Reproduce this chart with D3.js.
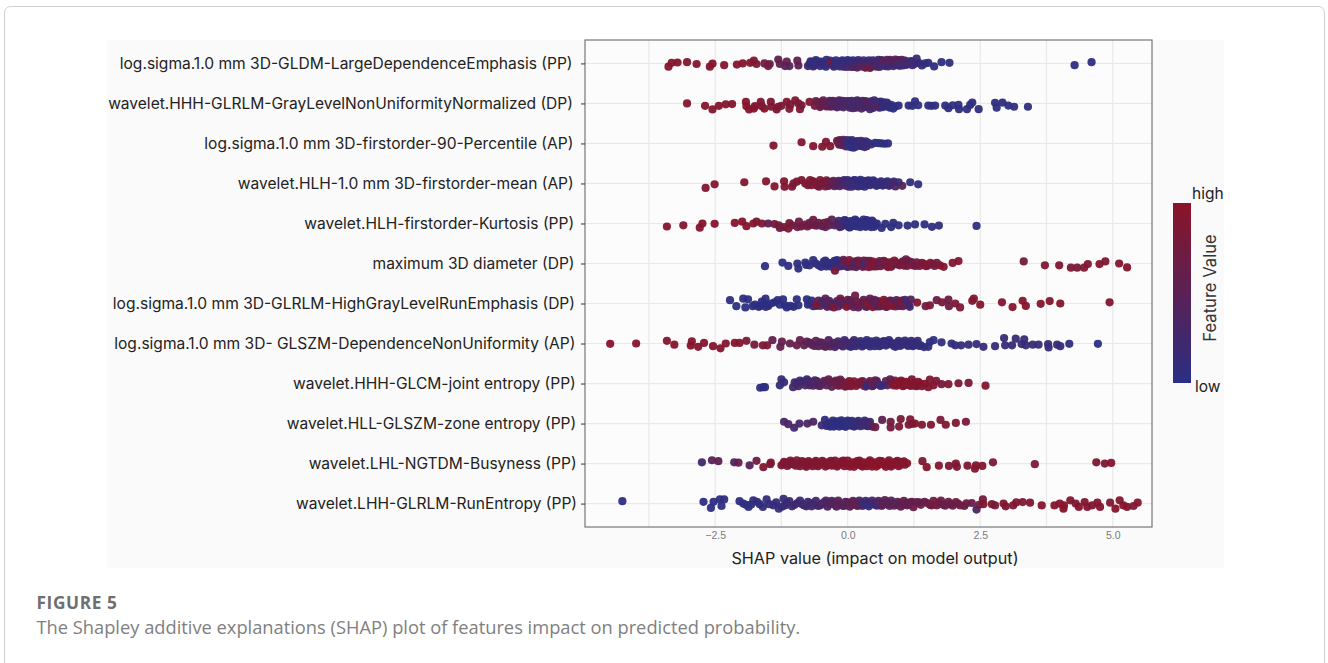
<!DOCTYPE html>
<html>
<head>
<meta charset="utf-8">
<script src="https://cdn.jsdelivr.net/npm/d3@7"></script>
<style>
  body { margin: 0; background: #fff; }
  svg { display: block; }
</style>
</head>
<body>
<div class="chart"></div>
<script>
// row labels, top to bottom
var features = [
  "log.sigma.1.0 mm 3D-GLDM-LargeDependenceEmphasis (PP)",
  "wavelet.HHH-GLRLM-GrayLevelNonUniformityNormalized (DP)",
  "log.sigma.1.0 mm 3D-firstorder-90-Percentile (AP)",
  "wavelet.HLH-1.0 mm 3D-firstorder-mean (AP)",
  "wavelet.HLH-firstorder-Kurtosis (PP)",
  "maximum 3D diameter (DP)",
  "log.sigma.1.0 mm 3D-GLRLM-HighGrayLevelRunEmphasis (DP)",
  "log.sigma.1.0 mm 3D- GLSZM-DependenceNonUniformity (AP)",
  "wavelet.HHH-GLCM-joint entropy (PP)",
  "wavelet.HLL-GLSZM-zone entropy (PP)",
  "wavelet.LHL-NGTDM-Busyness (PP)",
  "wavelet.LHH-GLRLM-RunEntropy (PP)"
];
var xTicks = [-2.5, 0, 2.5, 5];
var xGrid = [-3.75, -2.5, -1.25, 0, 1.25, 2.5, 3.75, 5];

// each point: [shap value, jitter (-1..1), feature value (0 low..1 high)]
var gldm = [[-3.38,.55,.95],[-3.32,-.1,.95],[-3.21,-.15,.95],[-3.03,-.2,.95],[-2.85,.1,.95],[-2.6,.55,.95],[-2.55,.05,.95],[-2.33,.3,.95],[-2.09,.2,.95],[-1.98,0,.95],[-1.84,-.1,.9],[-1.77,-.45,.9],[-1.72,.1,.9],[-1.57,0,.75],[-1.5,.45,.75],[-1.47,.1,.7],[-1.31,-.65,.55],[-1.28,.1,.6],[-1.18,.45,.5],[-1.15,-.3,.6],[-1.1,.45,.5],[-.95,-.45,.6],[-.93,.35,.55],
[-.75,.45,.15],[-.72,.1,.1],[-.68,-.2,.12],[-.62,.3,.12],[-.6,-.55,.08],[-.55,.05,.1],[-.5,-.3,.1],[-.44,.3,.12],[-.4,-.6,.1],[-.36,.05,.12],[-.3,-.1,.85],[-.26,.55,.15],[-.22,-.5,.08],[-.18,.2,.12],[-.12,-.25,.1],[-.08,.55,.2],[-.04,0,.15],[0,-.55,.1],[.04,.35,.3],[.08,-.2,.15],[.12,.6,.4],[.16,.1,.3],[.2,-.55,.1],[.24,.5,.5],[.28,-.1,.3],[.32,.65,.55],[.36,.2,.45],[.4,-.5,.15],[.42,.75,.8],[.46,.3,.5],[.5,-.15,.3],[.54,.55,.35],[.58,-.6,.25],[.62,.15,.3],[.66,-.3,.45],[.7,.45,.2],[.74,-.6,.5],[.78,.05,.25],[.82,-.35,.45],[.86,.45,.25],[.9,-.65,.5],[.94,-.15,.35],[.98,.4,.2],[1.02,-.6,.5],[1.06,-.1,.35],[1.1,.25,.2],[1.16,-.3,.2],[1.22,.3,.2],[1.3,-.8,.15],[1.34,-.1,.15],[1.4,.35,.1],[1.46,0,.12],[1.52,-.1,.1],[1.63,.5,.05],[1.77,-.2,.05],[1.92,-.1,.05],[4.28,.3,.03],[4.6,-.2,.03]];
var gldmCore = [[-.7,-.35,.1],[-.65,.5,.12],[-.57,-.35,.1],[-.52,.45,.12],[-.47,-.1,.1],[-.41,.55,.15],[-.33,-.45,.1],[-.28,.25,.15],[-.24,-.15,.1],[-.15,.5,.2],[-.1,-.5,.1],[-.06,.1,.2],[-.02,.6,.3],[.02,-.25,.15],[.06,.6,.35],[.1,-.5,.12],[.14,.25,.35],[.18,.7,.5],[.22,-.2,.2],[.26,.25,.4],[.3,-.5,.15],[.34,.7,.5],[.38,-.1,.35],[.44,.55,.45],[.48,-.5,.25],[.52,.2,.4],[.56,-.2,.3],[.6,.6,.3],[.64,-.55,.35],[.68,.15,.3],[.72,-.15,.35],[.76,.5,.2],[.8,-.6,.55],[.84,.1,.35],[.88,-.3,.5],[.92,.3,.3],[.96,-.55,.55],[1,0,.3],[1.04,.35,.25],[1.08,-.45,.3],[1.14,.1,.2],[1.2,-.4,.2],[1.26,.1,.15]];
var glrlmNorm = [[-3.03,0,.95],[-2.69,.4,.95],[-2.55,1,.95],[-2.43,.4,.95],[-2.3,.15,.95],[-2.18,.1,.95],[-1.92,-.25,.95],[-1.91,.45,.95],[-1.86,1,.95],[-1.77,.85,.95],[-1.75,.45,.95],[-1.64,-.25,.9],[-1.57,.85,.95],[-1.62,.45,.9],[-1.45,-.25,.9],[-1.44,.55,.9],[-1.34,1,.9],[-1.31,.55,.9],[-1.25,.4,.85],[-1.15,-.25,.9],[-1.1,.9,.85],[-1.08,.2,.85],[-.99,-.5,.85],[-.93,0,.85],[-.9,.95,.85],[-.87,.3,.8],[-.72,-.25,.85],[-.62,.4,.75],[-.55,-.2,.7],[-.5,.3,.65],[-.46,-.5,.6],[-.42,.1,.55],[-.38,.45,.55],[-.34,-.45,.45],[-.3,0,.45],[-.26,.45,.4],[-.22,-.3,.4],[-.18,.15,.35],[-.14,.5,.35],[-.1,-.45,.35],[-.06,0,.3],[-.02,.4,.35],[.02,-.4,.3],[.06,.1,.25],[.1,.8,.35],[.14,.35,.3],[.18,-.5,.3],[.22,-.05,.3],[.26,.85,.4],[.3,.45,.3],[.34,-.4,.4],[.38,.05,.4],[.42,.95,.3],[.46,.35,.35],[.5,-.5,.15],[.54,0,.3],[.58,.5,.45],[.62,-.3,.15],[.66,.6,.1],[.7,.1,.15],[.74,-.15,.1],[.78,.55,.08],[.82,.25,.08],[.86,.85,.05],[.9,.5,.05],[.96,.35,.05],[1.15,.35,.05],[1.22,.4,.05],[1.27,-.35,.05],[1.33,.3,.05],[1.52,.35,.05],[1.58,.4,.05],[1.65,.35,.05],[1.84,.35,.05],[1.9,.8,.05],[1.98,.3,.05],[2.09,.25,.05],[2.1,.95,.05],[2.25,.95,.05],[2.31,.25,.05],[2.35,-.15,.05],[2.47,.95,.05],[2.78,-.1,.05],[2.81,.7,.05],[2.92,-.15,.05],[3.03,.35,.05],[3.14,.55,.05],[3.4,.55,.05]];
var glrlmNormCore = [[-.6,-.4,.7],[-.52,.6,.65],[-.48,-.2,.6],[-.4,.5,.55],[-.36,-.2,.5],[-.32,.55,.5],[-.28,-.45,.45],[-.24,.2,.4],[-.2,.65,.35],[-.16,-.5,.35],[-.12,.25,.3],[-.08,.65,.35],[-.04,-.4,.3],[0,.2,.3],[.04,.7,.35],[.08,-.45,.3],[.12,.25,.3],[.16,.7,.35],[.2,-.3,.3],[.24,.3,.3],[.28,-.45,.35],[.32,.6,.35],[.36,-.15,.35],[.4,.4,.3],[.44,-.35,.45],[.48,.75,.25],[.52,.2,.4],[.56,-.2,.2],[.6,.7,.1],[.64,.2,.1],[.68,-.2,.1],[.72,.5,.08],[.76,.15,.08],[.8,.7,.05]];
var percentile90 = [[-1.4,.35,.95],[-.87,-.2,.95],[-.65,.45,.95],[-.48,.55,.9],[-.41,-.25,.85],[-.33,.45,.95],[-.2,-.45,.75],[-.18,-.1,.7],[-.15,-.55,.65],[-.12,-.1,.6],[-.1,.3,.55],[-.08,-.6,.45],[-.05,.1,.4],[-.03,.5,.35],[0,-.55,.2],[.03,0,.1],[.05,.6,.05],[.08,-.55,.1],[.1,.25,.05],[.13,-.2,.1],[.15,.55,.05],[.18,-.4,.12],[.2,.1,.15],[.25,-.45,.2],[.27,.45,.15],[.3,.1,.12],[.34,-.35,.15],[.36,.45,.2],[.39,-.1,.12],[.52,-.1,.05],[.64,0,.05],[.76,0,.05]];
var percentile90Core = [[-.16,.2,.7],[-.06,-.3,.4],[-.02,.25,.3],[.01,-.25,.15],[.06,.3,.05],[.11,.7,.05],[.16,-.1,.08],[.22,.35,.12],[.28,-.2,.18],[.32,.6,.2],[.45,.15,.12],[.58,-.05,.05],[.7,.05,.05]];
var firstMean = [[-2.68,.75,.95],[-2.51,.15,.95],[-1.95,-.2,.95],[-1.54,-.35,.95],[-1.38,.5,.95],[-1.2,-.35,.95],[-1.19,.55,.95],[-1.05,.55,.9],[-1.02,0,.85],[-.96,-.3,.85],[-.87,-.55,.9],[-.8,0,.85],[-.71,-.55,.85],[-.68,.3,.85],[-.62,-.2,.85],[-.57,.4,.8],[-.52,-.55,.85],[-.46,.1,.75],[-.4,-.5,.8],[-.35,.4,.7],[-.3,-.1,.6],[-.25,.45,.5],[-.2,-.2,.45],[-.15,.45,.4],[-.1,-.3,.3],[-.05,.35,.3],[0,-.55,.15],[.04,.1,.2],[.08,.55,.2],[.12,-.55,.1],[.16,.1,.1],[.2,.5,.1],[.24,-.6,.1],[.28,0,.08],[.32,.55,.08],[.36,-.4,.12],[.42,.3,.12],[.48,-.5,.08],[.54,.4,.1],[.6,-.1,.12],[.66,.35,.15],[.72,-.15,.12],[.78,.4,.2],[.84,-.1,.2],[.9,.5,.35],[.96,-.2,.12],[1.03,.4,.45],[1.18,-.2,.08],[1.33,.15,.05]];
var firstMeanCore = [[-.75,.3,.85],[-.66,-.4,.85],[-.59,.1,.85],[-.54,.55,.8],[-.48,-.15,.8],[-.42,.5,.75],[-.37,-.25,.7],[-.32,.2,.65],[-.27,-.45,.55],[-.22,.2,.5],[-.17,-.45,.4],[-.12,.15,.35],[-.07,-.55,.25],[-.02,.1,.25],[.02,.55,.15],[.06,-.3,.15],[.1,.25,.12],[.14,-.5,.1],[.18,.4,.1],[.22,-.1,.08],[.26,.4,.1],[.3,-.45,.1],[.34,.15,.08],[.39,-.5,.1],[.45,.05,.1],[.51,-.3,.1],[.57,.3,.12],[.63,-.35,.12],[.69,.2,.15],[.75,-.35,.15],[.81,.25,.15],[.87,-.3,.2]];
var kurtosis = [[-3.41,.5,.95],[-3.1,.3,.95],[-2.79,.7,.95],[-2.74,0,.95],[-2.51,.05,.95],[-2.13,-.1,.95],[-1.99,-.3,.95],[-1.91,.45,.95],[-1.78,0,.95],[-1.72,-.3,.9],[-1.62,0,.9],[-1.5,0,.55],[-1.38,.1,.8],[-1.28,.75,.75],[-1.12,.85,.85],[-1.1,-.05,.8],[-.95,.6,.7],[-.92,-.3,.7],[-.8,.2,.75],[-.72,-.1,.7],[-.65,-.6,.7],[-.62,.3,.7],[-.55,-.1,.65],[-.42,.6,.55],[-.38,-.25,.75],[-.3,-.65,.5],[-.25,.3,.45],[-.15,.6,.3],[-.1,0,.3],[-.06,-.55,.1],[-.02,.3,.1],[.02,.6,.08],[.06,-.4,.08],[.1,.15,.05],[.14,-.65,.05],[.18,.5,.05],[.22,-.2,.05],[.26,.2,.05],[.3,-.65,.05],[.34,.55,.05],[.38,-.3,.05],[.42,.2,.05],[.46,-.5,.05],[.5,.55,.05],[.55,0,.05],[.64,.75,.05],[.71,.05,.05],[.82,.6,.05],[.86,-.1,.05],[.96,.3,.05],[1.13,.35,.05],[1.27,.15,.05],[1.45,.15,.05],[1.59,.55,.05],[1.72,.35,.05],[2.43,.4,.05]];
var kurtosisCore = [[-1.3,.3,.75],[-1.2,.6,.8],[-1.05,.3,.75],[-.88,.5,.7],[-.76,.5,.7],[-.7,.25,.7],[-.58,.35,.65],[-.48,.45,.55],[-.44,-.1,.6],[-.35,.3,.5],[-.2,.1,.35],[-.17,-.45,.25],[-.12,.5,.2],[-.08,.2,.15],[-.04,-.5,.1],[0,.25,.08],[.04,.65,.08],[.08,-.3,.05],[.12,.4,.05],[.16,-.5,.05],[.2,.15,.05],[.24,.6,.05],[.28,-.2,.05],[.32,.4,.05],[.36,-.55,.05],[.4,.1,.05],[.44,.6,.05],[.48,-.25,.05],[.52,.2,.05]];
var diameter = [[-1.56,.45,.03],[-1.23,-.15,.03],[-1.12,.4,.03],[-.95,0,.05],[-.93,.85,.05],[-.8,-.15,.05],[-.72,.3,.05],[-.65,-.55,.05],[-.55,.3,.05],[-.45,-.3,.05],[-.4,.5,.05],[-.35,-.05,.05],[-.3,.55,.05],[-.25,-.45,.05],[-.22,.15,.08],[-.18,.55,.1],[-.15,-.3,.08],[-.24,1.2,.8],[-.12,.45,.2],[-.08,-.6,.6],[-.04,.1,.7],[0,.55,.35],[.03,-.55,.85],[.06,-.05,.75],[.1,.5,.5],[.14,-.35,.55],[.18,.3,.4],[.22,-.2,.8],[.28,.55,.7],[.32,0,.15],[.36,-.45,.6],[.4,.6,.85],[.44,.05,.7],[.48,-.3,.95],[.52,.5,.8],[.58,-.05,.6],[.62,.45,.7],[.68,-.45,.75],[.72,.05,.65],[.76,.6,.8],[.8,-.2,.9],[.84,.3,.8],[.88,-.5,.85],[.94,.15,.7],[1,-.1,.85],[1.06,.35,.8],[1.1,-.7,.65],[1.16,-.35,.7],[1.22,.3,.75],[1.3,-.2,.75],[1.36,.4,.8],[1.44,.05,.85],[1.52,.3,.85],[1.6,.1,.85],[1.68,-.1,.7],[1.74,.3,.9],[1.81,.55,.95],[1.98,-.1,.9],[2.09,-.4,.95],[3.32,-.35,.75],[3.72,.3,.9],[3.99,.3,.9],[4.21,.7,.85],[4.33,.7,.8],[4.46,.7,.9],[4.53,.1,.9],[4.75,.1,.95],[4.86,-.35,.9],[5.12,0,.95],[5.27,.65,.95]];
var diameterCore = [[-.78,.25,.05],[-.6,0,.05],[-.5,.55,.05],[-.42,-.5,.05],[-.37,.15,.05],[-.32,.1,.05],[-.27,-.15,.05],[-.2,-.55,.08],[-.16,.1,.1],[-.1,.25,.3],[-.06,-.25,.5],[-.02,.5,.6],[.02,.1,.75],[.05,.5,.65],[.12,-.1,.65],[.16,.6,.5],[.2,-.5,.75],[.26,.15,.7],[.3,-.5,.6],[.34,.5,.6],[.38,0,.2],[.42,-.45,.65],[.46,.5,.8],[.5,-.05,.85],[.56,.45,.75],[.6,-.4,.7],[.66,.15,.75],[.7,-.3,.7],[.74,.4,.75],[.78,-.1,.7],[.82,.55,.85],[.9,-.2,.85],[.98,.3,.8],[1.04,-.35,.7],[1.12,.4,.8],[1.2,-.25,.7],[1.28,.4,.7],[1.4,-.1,.85],[1.48,.45,.85],[1.56,-.1,.85],[1.64,.4,.8]];
var highGray = [[-2.22,-.55,.05],[-2.1,.45,.03],[-1.97,-.8,.03],[-1.93,.65,.03],[-1.88,-.7,.03],[-1.79,.45,.03],[-1.68,.55,.03],[-1.62,-.3,.03],[-1.55,-.8,.03],[-1.54,.55,.03],[-1.45,0,.03],[-1.32,-.55,.03],[-1.22,-.7,.03],[-1.15,.65,.03],[-1.02,.55,.03],[-.96,-.7,.03],[-.93,.3,.03],[-.77,-.7,.05],[-.71,0,.05],[-.65,.45,.25],[-.58,.1,.9],[-.48,-.3,.3],[-.42,-.8,.45],[-.39,.55,.4],[-.3,0,.45],[-.26,.65,.8],[-.2,-.4,.3],[-.14,-.8,.7],[-.1,.2,.4],[-.02,.55,.9],[.04,-.55,.5],[.08,.1,.6],[.14,-1.3,.7],[.2,.65,.45],[.24,0,.8],[.3,-.6,.6],[.34,.5,.45],[.38,.05,.85],[.42,-.8,.55],[.47,.6,.9],[.52,.05,.4],[.56,-.45,.55],[.6,.5,.5],[.64,.1,.8],[.68,-.6,.9],[.72,.55,.65],[.76,0,.95],[.8,-.5,.6],[.84,.4,.85],[.88,.05,.9],[.92,-.55,.35],[.96,.3,.55],[1,-.3,.9],[1.04,.45,.7],[1.08,-.6,.3],[1.12,.15,.35],[1.17,.55,.25],[1.19,-.65,.4],[1.31,-.15,.95],[1.47,.45,.75],[1.55,.3,.85],[1.68,-.55,.7],[1.78,-.2,.8],[1.9,-.65,.7],[1.91,.45,.7],[2.03,0,.85],[2.12,.65,.85],[2.35,-.45,.9],[2.38,-.8,.9],[2.5,.2,.95],[2.91,-.2,.95],[3.11,.6,.95],[3.3,-.45,.95],[3.36,.4,.95],[3.64,.05,.95],[3.81,-.4,.95],[4.01,0,.95],[4.94,-.2,.95]];
var highGrayCore = [[-1.75,.2,.03],[-1.65,.45,.03],[-1.58,.1,.03],[-1.5,.4,.03],[-1.38,-.2,.03],[-1.28,.2,.03],[-1.18,.3,.03],[-1.08,.4,.03],[-.75,.2,.05],[-.68,-.5,.05],[-.6,.4,.3],[-.55,-.5,.35],[-.52,.4,.5],[-.44,.15,.4],[-.35,-.45,.4],[-.32,.5,.55],[-.24,.05,.45],[-.18,.5,.5],[-.12,-.45,.55],[-.06,.05,.6],[0,-.6,.65],[.02,.3,.7],[.06,-.2,.55],[.11,.6,.5],[.17,-.3,.55],[.22,.35,.6],[.28,-.15,.7],[.36,.55,.6],[.4,-.35,.7],[.45,.25,.7],[.5,-.6,.5],[.54,.5,.6],[.58,-.15,.7],[.62,.4,.75],[.7,-.2,.8],[.74,.55,.8],[.78,.2,.9],[.82,-.45,.7],[.86,.1,.85],[.9,.5,.85],[.94,-.2,.45],[.98,.4,.6],[1.02,-.5,.45],[1.06,.2,.5],[1.1,-.2,.3],[1.15,.2,.3]];
var dependence = [[-4.48,.05,.95],[-3.99,0,.95],[-3.41,-.45,.95],[-3.27,.2,.95],[-2.94,-.35,.95],[-2.96,.35,.95],[-2.82,.55,.95],[-2.71,-.1,.95],[-2.54,.45,.95],[-2.4,.8,.95],[-2.3,0,.95],[-2.13,-.1,.95],[-2.04,-.1,.95],[-1.91,-.45,.85],[-1.76,.2,.8],[-1.6,.3,.9],[-1.52,.3,.85],[-1.42,-.55,.6],[-1.27,.55,.6],[-1.24,-.3,.6],[-1.09,0,.6],[-.9,-.55,.6],[-.96,.3,.65],[-.77,-.3,.55],[-.68,.2,.5],[-.6,-.45,.5],[-.55,.45,.45],[-.48,-.1,.45],[-.42,.55,.5],[-.36,-.55,.4],[-.3,.1,.4],[-.24,.6,.35],[-.18,-.35,.35],[-.12,.3,.3],[-.06,-.55,.2],[0,.1,.3],[.06,.55,.15],[.12,-.55,.25],[.18,.1,.15],[.24,-.4,.12],[.3,.35,.12],[.36,-.55,.1],[.42,.5,.1],[.48,0,.1],[.54,-.5,.12],[.6,.45,.1],[.66,-.3,.12],[.72,.35,.12],[.78,-.55,.1],[.84,.05,.15],[.9,.55,.12],[.96,-.45,.1],[1.02,.2,.12],[1.08,-.5,.15],[1.14,.4,.1],[1.2,-.45,.12],[1.26,.25,.1],[1.32,-.45,.12],[1.38,.3,.12],[1.44,.6,.1],[1.52,.55,.05],[1.55,-.25,.05],[1.62,-.55,.05],[1.77,-.2,.05],[1.96,0,.05],[2.03,.3,.1],[2.14,.3,.12],[2.28,.2,.12],[2.43,.1,.1],[2.56,.55,.15],[2.78,.45,.15],[2.95,-.9,.15],[2.97,.3,.15],[3.1,.3,.15],[3.17,-.8,.15],[3.28,.1,.15],[3.33,-.7,.15],[3.36,.3,.15],[3.49,.2,.15],[3.6,.2,.15],[3.78,.1,.15],[3.79,.65,.12],[3.95,.2,.15],[4.01,.45,.12],[4.18,.05,.08],[4.72,.05,.03]];
var dependenceCore = [[-.82,.3,.55],[-.72,-.15,.55],[-.63,.4,.5],[-.52,-.2,.45],[-.45,.4,.45],[-.33,.5,.4],[-.27,-.1,.35],[-.21,.3,.3],[-.15,.05,.3],[-.09,.5,.25],[-.03,-.2,.25],[.03,.45,.2],[.09,-.25,.2],[.15,.45,.15],[.21,-.1,.15],[.27,.5,.12],[.33,-.2,.1],[.39,.2,.1],[.45,-.35,.1],[.51,.45,.1],[.57,-.15,.1],[.63,.25,.12],[.69,-.4,.12],[.75,.15,.1],[.81,-.2,.12],[.87,.4,.12],[.93,-.1,.1],[.99,.4,.12],[1.05,-.2,.12],[1.11,.2,.1],[1.17,-.1,.12],[1.23,.45,.1],[1.29,-.1,.12],[1.35,.4,.12]];
var jointEntropy = [[-1.65,.7,.03],[-1.59,.6,.03],[-1.56,.6,.03],[-1.28,.3,.1],[-1.25,-.7,.1],[-1.2,-.2,.15],[-1.03,.6,.25],[-.96,0,.3],[-.9,-.5,.2],[-.77,-.7,.2],[-.72,.3,.35],[-.68,-.2,.3],[-.62,-.55,.35],[-.55,.35,.4],[-.48,-.1,.45],[-.36,-.7,.6],[-.3,.55,.5],[-.25,-.3,.6],[-.2,.3,.7],[-.14,-.65,.65],[-.08,.1,.75],[-.02,.45,.8],[.03,-.4,.85],[.1,.1,.95],[.16,.4,.85],[.24,-.3,.8],[.3,.35,.75],[.36,.3,.1],[.42,-.4,.6],[.48,.35,.5],[.52,-.55,.6],[.58,.15,.25],[.67,.3,.1],[.72,-.4,.45],[.8,-.7,.6],[.86,.3,.9],[.92,.35,.95],[.98,-.3,.95],[1.04,.45,.9],[1.1,-.3,.95],[1.15,.25,.95],[1.21,-.7,.9],[1.27,.35,.9],[1.33,-.3,.95],[1.4,.45,.9],[1.46,.05,.95],[1.52,.6,.9],[1.55,-.65,.9],[1.62,.3,.95],[1.67,-.45,.9],[1.77,.1,.8],[1.9,.1,.85],[2.09,-.05,.9],[2.28,-.1,.85],[2.6,.35,.95]];
var jointEntropyCore = [[-1,-.2,.25],[-.93,.45,.3],[-.85,-.3,.25],[-.8,.3,.3],[-.74,-.4,.3],[-.65,.35,.35],[-.58,-.4,.4],[-.52,.4,.45],[-.44,-.45,.5],[-.4,.3,.5],[-.32,-.2,.55],[-.22,-.5,.65],[-.16,.35,.7],[-.1,-.3,.7],[-.05,.5,.75],[0,-.1,.85],[.06,.45,.9],[.12,-.35,.85],[.2,.05,.9],[.28,-.4,.75],[.34,.5,.65],[.4,-.1,.6],[.46,.45,.35],[.55,-.4,.45],[.62,.4,.15],[.75,.3,.5],[.83,-.1,.8],[.89,-.5,.85],[.95,.1,.9],[1.01,-.5,.9],[1.07,.3,.95],[1.13,-.1,.9],[1.19,.4,.95],[1.25,-.1,.95],[1.3,.45,.9],[1.36,-.05,.95]];
var zoneEntropy = [[-1.2,-.3,.3],[-1.12,.1,.35],[-1.01,.7,.25],[-.91,0,.3],[-.76,0,.35],[-.65,-.3,.4],[-.49,.3,.15],[-.43,-.6,.1],[-.37,0,.1],[-.33,.5,.03],[-.28,-.5,.05],[-.24,.2,.03],[-.2,-.35,.03],[-.16,.5,.03],[-.12,-.55,.03],[-.08,.1,.03],[-.04,.55,.03],[0,-.5,.05],[.04,.2,.05],[.08,-.45,.1],[.12,.5,.1],[.16,0,.12],[.2,-.45,.15],[.24,.45,.2],[.28,0,.2],[.32,-.5,.15],[.36,.35,.2],[.4,0,.25],[.46,.5,.3],[.52,.6,.7],[.65,-.6,.55],[.81,-.3,.75],[.81,.65,.75],[.97,.5,.85],[1,-.75,.8],[1.15,.2,.9],[1.18,-.7,.85],[1.22,.05,.85],[1.27,0,.9],[1.4,.2,.9],[1.57,.2,.9],[1.75,-.6,.85],[1.85,.2,.9],[2.04,-.1,.9],[2.23,-.3,.85]];
var zoneEntropyCore = [[-.4,.4,.1],[-.3,-.1,.05],[-.26,.5,.03],[-.18,.1,.03],[-.14,-.2,.03],[-.1,.4,.03],[-.06,-.3,.03],[-.02,.3,.03],[.02,-.2,.05],[.06,.35,.08],[.1,-.1,.1],[.14,.4,.12],[.18,-.2,.15],[.22,.2,.15],[.3,.3,.2],[.34,-.2,.15],[.38,.45,.25],[.42,-.3,.25]];
var busyness = [[-2.75,-.2,.25],[-2.56,-.55,.5],[-2.44,-.4,.55],[-2.14,-.2,.4],[-2.06,-.15,.6],[-1.85,.3,.45],[-1.72,-.45,.75],[-1.59,.6,.9],[-1.46,.1,.85],[-1.45,-.15,.9],[-1.25,.3,.85],[-1.2,-.3,.9],[-1.14,.4,.85],[-1.08,-.5,.9],[-1.02,.1,.85],[-.96,-.55,.85],[-.9,.45,.85],[-.84,-.2,.9],[-.78,.55,.85],[-.72,-.1,.9],[-.66,.45,.9],[-.6,-.45,.9],[-.54,.2,.9],[-.48,-.45,.9],[-.42,.5,.9],[-.36,-.2,.9],[-.3,.35,.95],[-.24,-.5,.9],[-.18,.2,.95],[-.12,-.35,.9],[-.06,.45,.95],[0,-.5,.95],[.06,.15,.95],[.12,.55,.95],[.18,-.4,.95],[.24,.3,.95],[.3,-.2,.95],[.36,.45,.95],[.42,-.55,.95],[.48,.1,1],[.54,.5,1],[.6,-.45,.95],[.66,.1,1],[.72,.55,.95],[.78,-.55,.95],[.84,.2,.95],[.9,-.3,.95],[.96,.45,.95],[1.02,-.25,.95],[1.08,.2,.95],[1.12,-.05,.95],[1.41,-.4,.9],[1.49,.6,.95],[1.72,.35,.95],[1.91,.4,.9],[2.04,0,.9],[2.06,.55,.9],[2.26,.35,.9],[2.4,.85,.95],[2.42,.3,.9],[2.54,.4,.95],[2.74,-.2,.85],[3.53,.1,.85],[4.69,-.2,.9],[4.85,0,.9],[4.97,-.1,.95]];
var busynessCore = [[-1.22,.1,.85],[-1.16,-.1,.9],[-1.1,.15,.85],[-1.04,-.2,.85],[-.98,.35,.85],[-.92,.1,.85],[-.86,-.4,.9],[-.8,.3,.9],[-.74,-.4,.85],[-.68,.1,.9],[-.62,-.2,.9],[-.56,.45,.9],[-.5,0,.9],[-.44,-.2,.9],[-.38,.3,.9],[-.32,-.45,.9],[-.26,.1,.95],[-.2,.5,.9],[-.14,.05,.95],[-.08,-.5,.95],[-.02,.1,.95],[.04,.5,.95],[.1,-.2,.95],[.16,.15,.95],[.22,-.5,.95],[.28,.5,.95],[.34,.05,.95],[.4,-.3,1],[.46,.5,1],[.52,-.2,1],[.58,.25,1],[.64,-.4,.95],[.7,.2,1],[.76,-.2,.95],[.82,.5,.95],[.88,.1,.95],[.94,-.45,.95],[1,.2,.95],[1.06,-.35,.95]];
var runEntropy = [[-4.25,-.4,.03],[-2.72,-.3,.03],[-2.58,.7,.03],[-2.53,-.3,.03],[-2.38,.4,.05],[-2.41,-.7,.05],[-2.33,-.7,.05],[-2.04,-.4,.05],[-1.97,0,.05],[-1.87,.55,.05],[-1.78,-.55,.05],[-1.71,-.3,.1],[-1.6,.55,.1],[-1.53,-.7,.1],[-1.4,.3,.1],[-1.3,.85,.1],[-1.21,-.8,.15],[-1.18,.3,.15],[-1.1,-.4,.2],[-1,.2,.2],[-.9,-.5,.2],[-.82,.3,.25],[-.75,-.3,.2],[-.68,.45,.25],[-.6,-.45,.25],[-.52,.3,.3],[-.45,-.2,.35],[-.38,.5,.4],[-.3,-.45,.4],[-.24,.25,.45],[-.18,-.5,.5],[-.1,.35,.45],[-.04,-.3,.45],[.04,.5,.5],[.1,-.45,.6],[.16,.3,.6],[.22,-.5,.3],[.28,.4,.25],[.34,-.45,.15],[.4,.45,.1],[.46,-.5,.3],[.52,.2,.15],[.58,-.45,.4],[.64,.4,.5],[.7,-.6,.55],[.76,.1,.5],[.82,-.5,.45],[.88,.35,.5],[.94,-.3,.5],[1,.5,.55],[1.06,-.45,.6],[1.12,.3,.55],[1.18,-.2,.6],[1.24,.6,.65],[1.3,-.25,.6],[1.38,.2,.65],[1.45,-.3,.6],[1.55,.2,.7],[1.62,-.45,.75],[1.68,.3,.75],[1.76,-.5,.7],[1.84,.35,.6],[1.9,-.3,.7],[1.98,.35,.65],[2.04,-.25,.7],[2.12,.3,.65],[2.24,-.05,.7],[2.34,-.1,.65],[2.43,1,.35],[2.48,.2,.7],[2.55,-.7,.8],[2.56,.1,.9],[2.72,.1,.9],[2.78,.3,.8],[2.94,0,.9],[2.98,.45,.9],[3.12,.3,.9],[3.18,-.2,.9],[3.3,-.25,.85],[3.44,-.15,.9],[3.66,.3,.95],[3.9,.3,.95],[4.0,0,.95],[4.07,.85,.95],[4.08,.3,1],[4.2,-.55,.9],[4.3,0,.9],[4.36,.55,.95],[4.47,-.25,.9],[4.52,.55,.95],[4.61,.3,.9],[4.71,-.15,.95],[4.76,.55,.95],[4.95,-.15,.9],[5.05,.85,.95],[5.13,-.55,.95],[5.2,.3,.95],[5.27,.55,.95],[5.39,.4,.9],[5.47,-.15,.95]];
var runEntropyCore = [[-1.92,.2,.05],[-1.82,.15,.05],[-1.66,.1,.08],[-1.48,.1,.1],[-1.35,-.2,.12],[-1.24,.5,.15],[-1.15,-.1,.2],[-1.05,.45,.2],[-.95,-.1,.2],[-.86,.1,.25],[-.78,.45,.2],[-.7,-.1,.25],[-.64,.1,.3],[-.56,.4,.3],[-.48,.05,.35],[-.41,-.5,.4],[-.34,.1,.4],[-.27,-.2,.45],[-.21,.5,.5],[-.14,0,.45],[-.07,.4,.5],[0,-.2,.5],[.07,.2,.55],[.13,-.2,.6],[.19,.4,.35],[.25,-.1,.25],[.31,.2,.15],[.37,-.1,.1],[.43,.1,.15],[.49,-.1,.25],[.55,.35,.3],[.61,-.1,.45],[.67,.2,.5],[.73,-.2,.5],[.79,.4,.45],[.85,-.1,.5],[.91,.1,.5],[.97,-.1,.5],[1.03,.2,.55],[1.09,-.1,.55],[1.15,.15,.6],[1.21,-.3,.6],[1.35,-.2,.6],[1.5,-.1,.7],[1.58,.3,.7],[1.72,-.1,.75],[1.8,.2,.65],[1.94,.1,.7],[2.08,0,.7],[2.2,.4,.65]];

var rows = [
  gldmCore.concat(gldm),
  glrlmNormCore.concat(glrlmNorm),
  percentile90Core.concat(percentile90),
  firstMeanCore.concat(firstMean),
  kurtosisCore.concat(kurtosis),
  diameterCore.concat(diameter),
  highGrayCore.concat(highGray),
  dependenceCore.concat(dependence),
  jointEntropyCore.concat(jointEntropy),
  zoneEntropyCore.concat(zoneEntropy),
  busynessCore.concat(busyness),
  runEntropyCore.concat(runEntropy)
];

var svgWidth = 1328, svgHeight = 663;
var margin = { top: 40, right: 176, bottom: 136, left: 585 };
var width = svgWidth - margin.left - margin.right;
var height = svgHeight - margin.top - margin.bottom;

var svg = d3.select(".chart").append("svg")
  .attr("width", svgWidth)
  .attr("height", svgHeight)
  .style("font-family", "Inter, sans-serif");

// page card and grey figure background
svg.append("rect")
  .attr("x", 4.5).attr("y", 6.5)
  .attr("width", 1320).attr("height", 670)
  .attr("rx", 6)
  .attr("fill", "#fff").attr("stroke", "#cfcfcf");
svg.append("rect")
  .attr("x", 107).attr("y", 40)
  .attr("width", 1117).attr("height", 528)
  .attr("fill", "#fafafa");

var x = d3.scaleLinear().domain([-4.955, 5.74]).range([0, width]);
var y = d3.scalePoint().domain(features).range([0, height]).padding(0.585);
var jitter = d3.scaleLinear().domain([-1, 1]).range([-6, 6]);
var color = d3.scaleLinear().domain([0, 1]).range(["#2a2f84", "#8a1428"]);

var chart = svg.append("g").attr("transform", `translate(${margin.left}, ${margin.top})`);

chart.append("rect").attr("width", width).attr("height", height).attr("fill", "#fcfcfc");

// grid
chart.selectAll(".vgrid").data(xGrid).enter().append("line")
  .attr("x1", d => x(d)).attr("x2", d => x(d))
  .attr("y1", 0).attr("y2", height)
  .attr("stroke", "#e9e9e9").attr("stroke-width", 1.2);
chart.selectAll(".hgrid").data(features).enter().append("line")
  .attr("x1", 0).attr("x2", width)
  .attr("y1", d => y(d)).attr("y2", d => y(d))
  .attr("stroke", "#e9e9e9").attr("stroke-width", 1.2);

// points
features.forEach(function(name, i) {
  chart.append("g").selectAll("circle")
    .data(rows[i])
    .enter().append("circle")
    .attr("cx", d => x(d[0]))
    .attr("cy", d => y(name) + jitter(d[1]))
    .attr("r", 4.1)
    .attr("fill", d => color(d[2]))
    .attr("fill-opacity", 0.95);
});

// panel border
chart.append("rect").attr("width", width).attr("height", height)
  .attr("fill", "none").attr("stroke", "#777").attr("stroke-width", 1.2);

// axes
var bottomAxis = d3.axisBottom(x).tickValues(xTicks).tickFormat(d3.format(".1f")).tickSize(0).tickPadding(5);
var xAxisGroup = chart.append("g").attr("transform", `translate(0, ${height})`).call(bottomAxis);
xAxisGroup.select(".domain").remove();
xAxisGroup.selectAll("text")
  .style("font-family", "'Liberation Sans', sans-serif")
  .style("font-size", "10.5px").attr("fill", "#7a7a7a");

var leftAxis = d3.axisLeft(y).tickSize(4).tickFormat("");
var yAxisGroup = chart.append("g").call(leftAxis);
yAxisGroup.select(".domain").remove();
yAxisGroup.selectAll("line").attr("stroke", "#333");

// feature labels drift a little to the right down the figure
var labelRight = d3.scaleLinear().domain([0, features.length - 1]).range([572.5, 577]);
svg.append("g").selectAll("text")
  .data(features).enter().append("text")
  .attr("x", (d, i) => labelRight(i))
  .attr("y", d => margin.top + y(d))
  .attr("dy", "0.34em")
  .attr("text-anchor", "end")
  .attr("font-size", 15.55)
  .attr("fill", "#222")
  .text(d => d);

svg.append("text")
  .attr("x", 875).attr("y", 563.5)
  .attr("text-anchor", "middle")
  .attr("font-size", 16.2).attr("fill", "#222")
  .text("SHAP value (impact on model output)");

// colour legend
var grad = svg.append("defs").append("linearGradient")
  .attr("id", "featGrad")
  .attr("x1", 0).attr("x2", 0).attr("y1", 1).attr("y2", 0);
grad.selectAll("stop").data([0, 1]).enter().append("stop")
  .attr("offset", d => d * 100 + "%")
  .attr("stop-color", d => color(d));
svg.append("rect")
  .attr("x", 1173).attr("y", 203)
  .attr("width", 18).attr("height", 180)
  .attr("fill", "url(#featGrad)");
svg.append("text").attr("x", 1192).attr("y", 198.5)
  .attr("font-size", 15.5).attr("fill", "#222").text("high");
svg.append("text").attr("x", 1195).attr("y", 392)
  .attr("font-size", 15.5).attr("fill", "#222").text("low");
svg.append("text")
  .attr("transform", "translate(1215.5, 288) rotate(-90)")
  .attr("text-anchor", "middle")
  .attr("font-size", 16.6).attr("fill", "#333")
  .text("Feature Value");

// caption
svg.append("text").attr("x", 36.5).attr("y", 609)
  .style("font-family", "'Open Sans', sans-serif")
  .attr("font-size", 17.3).attr("font-weight", 700).attr("letter-spacing", 0.6).attr("fill", "#6f6f6f")
  .text("FIGURE 5");
svg.append("text").attr("x", 36.5).attr("y", 634)
  .style("font-family", "'Open Sans', sans-serif")
  .attr("font-size", 18.3).attr("fill", "#808080")
  .text("The Shapley additive explanations (SHAP) plot of features impact on predicted probability.");
</script>
</body>
</html>
